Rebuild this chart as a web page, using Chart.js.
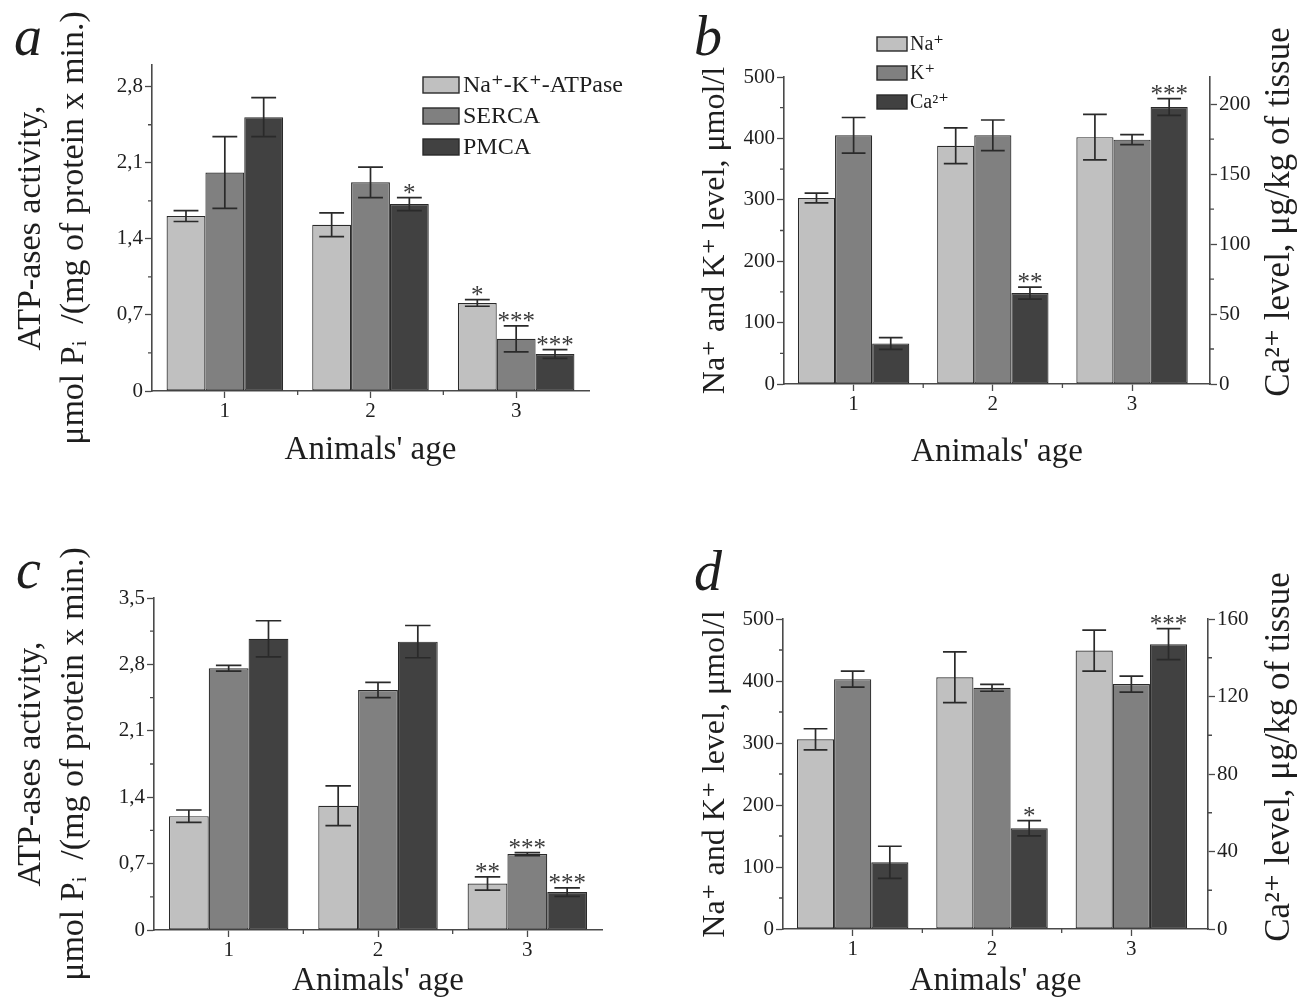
<!DOCTYPE html>
<html>
<head>
<meta charset="utf-8">
<script src="https://cdn.jsdelivr.net/npm/chart.js@4.4.1/dist/chart.umd.min.js"></script>
<style>
html,body{margin:0;padding:0;background:#fff;width:1299px;height:1001px;overflow:hidden;}
canvas{position:absolute;display:block;}
</style>
</head>
<body>
<canvas id="ca" width="650" height="500" style="left:0;top:0;width:650px;height:500px"></canvas>
<canvas id="cb" width="649" height="500" style="left:650px;top:0;width:649px;height:500px"></canvas>
<canvas id="cc" width="650" height="501" style="left:0;top:500px;width:650px;height:501px"></canvas>
<canvas id="cd" width="649" height="501" style="left:650px;top:500px;width:649px;height:501px"></canvas>
<script>
// ---------------- data ----------------
const ageCategories = [1, 2, 3];
const xMinorTicks = [1.5, 2.5];

const atpSeriesLabels = ['Na\u207A-K\u207A-ATPase', 'SERCA', 'PMCA'];
const ionSeriesLabels = ['Na\u207A', 'K\u207A', 'Ca\u00B2\u207A'];

// panel a
const aNaK = [1.61, 1.53, 0.81];
const aNaKErr = [0.05, 0.11, 0.03];
const aNaKSig = ['', '', '*'];
const aSERCA = [2.01, 1.92, 0.48];
const aSERCAErr = [0.33, 0.14, 0.12];
const aSERCASig = ['', '', '***'];
const aPMCA = [2.52, 1.72, 0.34];
const aPMCAErr = [0.18, 0.06, 0.04];
const aPMCASig = ['', '*', '***'];

// panel b
const bNa = [303, 388, 402];
const bNaErr = [8, 29, 37];
const bNaSig = ['', '', ''];
const bK = [405, 405, 398];
const bKErr = [29, 25, 8];
const bKSig = ['', '', ''];
const bCa = [29, 65, 198];
const bCaErr = [4.2, 4.3, 6];
const bCaSig = ['', '**', '***'];

// panel c
const cNaK = [1.20, 1.31, 0.49];
const cNaKErr = [0.065, 0.21, 0.07];
const cNaKSig = ['', '', '**'];
const cSERCA = [2.76, 2.53, 0.80];
const cSERCAErr = [0.03, 0.08, 0.015];
const cSERCASig = ['', '', '***'];
const cPMCA = [3.07, 3.04, 0.40];
const cPMCAErr = [0.19, 0.17, 0.045];
const cPMCASig = ['', '', '***'];

// panel d
const dNa = [306, 406, 449];
const dNaErr = [17, 41, 33];
const dNaSig = ['', '', ''];
const dK = [403, 389, 395];
const dKErr = [13, 5.5, 13];
const dKSig = ['', '', ''];
const dCa = [34.4, 52, 147];
const dCaErr = [8.3, 3.9, 8];
const dCaSig = ['', '*', '***'];

// tick labels
const aYTicks = [0, 0.7, 1.4, 2.1, 2.8];
const aYTickLabels = ['0', '0,7', '1,4', '2,1', '2,8'];
const aYMinor = [0.35, 1.05, 1.75, 2.45];
const cYTicks = [0, 0.7, 1.4, 2.1, 2.8, 3.5];
const cYTickLabels = ['0', '0,7', '1,4', '2,1', '2,8', '3,5'];
const cYMinor = [0.35, 1.05, 1.75, 2.45, 3.15];
const ionYTicks = [0, 100, 200, 300, 400, 500];
const ionYTickLabels = ['0', '100', '200', '300', '400', '500'];
const ionYMinor = [50, 150, 250, 350, 450];
const bY2Ticks = [0, 50, 100, 150, 200];
const bY2TickLabels = ['0', '50', '100', '150', '200'];
const bY2Minor = [25, 75, 125, 175];
const dY2Ticks = [0, 40, 80, 120, 160];
const dY2TickLabels = ['0', '40', '80', '120', '160'];
const dY2Minor = [20, 60, 100, 140];

// texts
const xTitle = "Animals' age";
const yTitleATP = ['ATP-ases activity,', '\u03BCmol P\u1D62  /(mg of protein x min.)'];
const yTitleIons = 'Na\u207A and K\u207A level, \u03BCmol/l';
const y2TitleCa = 'Ca\u00B2\u207A level, \u03BCg/kg of tissue';

// ---------------- style ----------------
const FONT = "'Liberation Serif', 'Times New Roman', 'DejaVu Serif', serif";
const TEXT = '#1e1e1e';
const AXIS = '#4a4a4a';
const BAR_COLORS = ['#c0c0c0', '#808080', '#414141'];
const BAR_BORDER = '#2a2a2a';

function series(labels, vals, errs, sigs, axes) {
  return vals.map((v, i) => ({
    label: labels[i],
    data: ageCategories.map((c, j) => ({x: c, y: v[j]})),
    errors: errs[i],
    sig: sigs[i],
    backgroundColor: BAR_COLORS[i],
    borderColor: BAR_BORDER,
    borderWidth: 1.2,
    borderSkipped: false,
    categoryPercentage: 0.8,
    barPercentage: 1.0,
    yAxisID: axes ? axes[i] : 'y'
  }));
}

function axisCommon() {
  return {
    grid: {drawOnChartArea: false, drawTicks: true, tickLength: 7, tickColor: AXIS, tickWidth: 1.3},
    border: {display: true, color: AXIS, width: 1.6}
  };
}

function extras(cfg) {
  return {
    id: 'extras',
    afterDatasetsDraw(chart) {
      const ctx = chart.ctx;
      ctx.save();
      chart.data.datasets.forEach((ds, di) => {
        const meta = chart.getDatasetMeta(di);
        const ys = chart.scales[meta.yAxisID];
        meta.data.forEach((bar, j) => {
          const v = ds.data[j].y, e = ds.errors[j];
          const x = bar.x, cw = bar.width * 0.64;
          const yt = ys.getPixelForValue(v + e), yb = ys.getPixelForValue(v - e);
          ctx.strokeStyle = '#2a2a2a';
          ctx.lineWidth = 1.7;
          ctx.beginPath();
          ctx.moveTo(x, yt); ctx.lineTo(x, yb);
          ctx.moveTo(x - cw / 2, yt); ctx.lineTo(x + cw / 2, yt);
          ctx.moveTo(x - cw / 2, yb); ctx.lineTo(x + cw / 2, yb);
          ctx.stroke();
          if (ds.sig[j]) {
            ctx.fillStyle = '#3a3a3a';
            ctx.font = '25px ' + FONT;
            ctx.textAlign = 'center';
            ctx.textBaseline = 'alphabetic';
            ctx.fillText(ds.sig[j], x, yt + 3);
          }
        });
      });
      ctx.restore();
    },
    afterDraw(chart) {
      const ctx = chart.ctx;
      ctx.save();
      ctx.strokeStyle = AXIS;
      ctx.lineWidth = 1.3;
      ctx.beginPath();
      const xs = chart.scales.x;
      xMinorTicks.forEach(v => { const p = xs.getPixelForValue(v); ctx.moveTo(p, xs.top); ctx.lineTo(p, xs.top + 4); });
      const ys = chart.scales.y;
      cfg.yMinor.forEach(v => { const p = ys.getPixelForValue(v); ctx.moveTo(ys.right, p); ctx.lineTo(ys.right - 4, p); });
      if (chart.scales.y2) {
        const y2 = chart.scales.y2;
        cfg.y2Minor.forEach(v => { const p = y2.getPixelForValue(v); ctx.moveTo(y2.left, p); ctx.lineTo(y2.left + 4, p); });
      }
      ctx.stroke();
      // legend
      if (cfg.legend) {
        const L = cfg.legend;
        ctx.font = L.fontSize + 'px ' + FONT;
        chart.data.datasets.forEach((ds, i) => {
          const y = L.y + i * L.dy;
          ctx.fillStyle = ds.backgroundColor;
          ctx.fillRect(L.x, y, L.w, L.h);
          ctx.strokeStyle = BAR_BORDER; ctx.lineWidth = 1.4;
          ctx.strokeRect(L.x, y, L.w, L.h);
          ctx.fillStyle = TEXT;
          ctx.textAlign = 'left'; ctx.textBaseline = 'middle';
          ctx.fillText(ds.label, L.x + L.w + L.gap, y + L.h / 2 + 1);
        });
      }
      // panel letter
      ctx.fillStyle = TEXT;
      ctx.font = 'italic 56px ' + FONT;
      ctx.textAlign = 'left'; ctx.textBaseline = 'alphabetic';
      ctx.fillText(cfg.letter, cfg.letterX, cfg.letterY);
      // right title
      if (cfg.y2Title) {
        ctx.save();
        ctx.translate(cfg.y2TitleX, cfg.y2TitleY);
        ctx.rotate(-Math.PI / 2);
        ctx.font = '35px ' + FONT;
        ctx.textAlign = 'center'; ctx.textBaseline = 'middle';
        ctx.fillText(cfg.y2Title, 0, 0);
        ctx.restore();
      }
      ctx.restore();
    }
  };
}

function makeChart(id, cfg) {
  const scales = {
    x: Object.assign(axisCommon(), {
      type: 'linear', min: 0.5, max: cfg.xMax, offset: false,
      afterBuildTicks: s => { s.ticks = ageCategories.map(v => ({value: v})); },
      afterFit: s => { s.height = cfg.xHeight; },
      ticks: {callback: v => String(v), font: {family: FONT, size: 21}, color: TEXT, padding: 1, maxRotation: 0, autoSkip: false},
      title: {display: true, text: xTitle, font: {family: FONT, size: 33, lineHeight: 1.2}, color: TEXT, padding: {top: 0, bottom: cfg.xTitlePad}}
    }),
    y: Object.assign(axisCommon(), {
      type: 'linear', position: 'left', min: 0, max: cfg.yMax,
      afterBuildTicks: s => { s.ticks = cfg.yTicks.map(v => ({value: v})); },
      afterFit: s => { s.width = cfg.yWidth; },
      ticks: {callback: v => cfg.yTickLabels[cfg.yTicks.indexOf(v)], font: {family: FONT, size: 21}, color: TEXT, padding: 2},
      title: {display: true, text: cfg.yTitle, font: {family: FONT, size: cfg.yTitleSize, lineHeight: 1.25}, color: TEXT, padding: {top: cfg.yTitlePad, bottom: 0}}
    })
  };
  scales.x.grid.offset = false;
  if (cfg.y2Ticks) {
    scales.y2 = Object.assign(axisCommon(), {
      type: 'linear', position: 'right', min: 0, max: cfg.y2Max,
      afterBuildTicks: s => { s.ticks = cfg.y2Ticks.map(v => ({value: v})); },
      afterFit: s => { s.width = cfg.y2Width; },
      ticks: {callback: v => cfg.y2TickLabels[cfg.y2Ticks.indexOf(v)], font: {family: FONT, size: 21}, color: TEXT, padding: 2}
    });
  }
  return new Chart(document.getElementById(id), {
    type: 'bar',
    data: {datasets: cfg.datasets},
    options: {
      responsive: false,
      animation: false,
      devicePixelRatio: 1,
      layout: {padding: cfg.padding},
      plugins: {legend: {display: false}, tooltip: {enabled: false}},
      scales: scales
    },
    plugins: [extras(cfg)]
  });
}

makeChart('ca', {
  datasets: series(atpSeriesLabels, [aNaK, aSERCA, aPMCA], [aNaKErr, aSERCAErr, aPMCAErr], [aNaKSig, aSERCASig, aPMCASig]),
  xMax: 3.5, yMax: 3.0, yTicks: aYTicks, yTickLabels: aYTickLabels, yMinor: aYMinor,
  padding: {left: 0, top: 65, right: 61, bottom: 0},
  xHeight: 109, yWidth: 152, xTitlePad: 30,
  yTitle: yTitleATP, yTitleSize: 34, yTitlePad: 10,
  legend: {x: 423, y: 77, dy: 31, w: 36, h: 16, gap: 4, fontSize: 24},
  letter: 'a', letterX: 14, letterY: 55
});

makeChart('cb', {
  datasets: series(ionSeriesLabels, [bNa, bK, bCa], [bNaErr, bKErr, bCaErr], [bNaSig, bKSig, bCaSig], ['y', 'y', 'y2']),
  xMax: 3.56, yMax: 500, yTicks: ionYTicks, yTickLabels: ionYTickLabels, yMinor: ionYMinor,
  y2Max: 219.4, y2Ticks: bY2Ticks, y2TickLabels: bY2TickLabels, y2Minor: bY2Minor, y2Width: 89,
  padding: {left: 0, top: 77, right: 0, bottom: 0},
  xHeight: 116, yWidth: 134, xTitlePad: 28,
  yTitle: yTitleIons, yTitleSize: 32, yTitlePad: 46,
  legend: {x: 227, y: 37, dy: 29, w: 30, h: 14, gap: 3, fontSize: 20},
  letter: 'b', letterX: 44, letterY: 55,
  y2Title: y2TitleCa, y2TitleX: 630, y2TitleY: 212
});

makeChart('cc', {
  datasets: series(atpSeriesLabels, [cNaK, cSERCA, cPMCA], [cNaKErr, cSERCAErr, cPMCAErr], [cNaKSig, cSERCASig, cPMCASig]),
  xMax: 3.5, yMax: 3.5, yTicks: cYTicks, yTickLabels: cYTickLabels, yMinor: cYMinor,
  padding: {left: 0, top: 98, right: 48, bottom: 0},
  xHeight: 71, yWidth: 154, xTitlePad: 0,
  yTitle: yTitleATP, yTitleSize: 34, yTitlePad: 10,
  legend: null,
  letter: 'c', letterX: 16, letterY: 88
});

makeChart('cd', {
  datasets: series(ionSeriesLabels, [dNa, dK, dCa], [dNaErr, dKErr, dCaErr], [dNaSig, dKSig, dCaSig], ['y', 'y', 'y2']),
  xMax: 3.55, yMax: 500, yTicks: ionYTicks, yTickLabels: ionYTickLabels, yMinor: ionYMinor,
  y2Max: 160, y2Ticks: dY2Ticks, y2TickLabels: dY2TickLabels, y2Minor: dY2Minor, y2Width: 91,
  padding: {left: 0, top: 119, right: 0, bottom: 0},
  xHeight: 72, yWidth: 133, xTitlePad: 0,
  yTitle: yTitleIons, yTitleSize: 32, yTitlePad: 46,
  legend: null,
  letter: 'd', letterX: 44, letterY: 90,
  y2Title: y2TitleCa, y2TitleX: 630, y2TitleY: 257
});
</script>
</body>
</html>
